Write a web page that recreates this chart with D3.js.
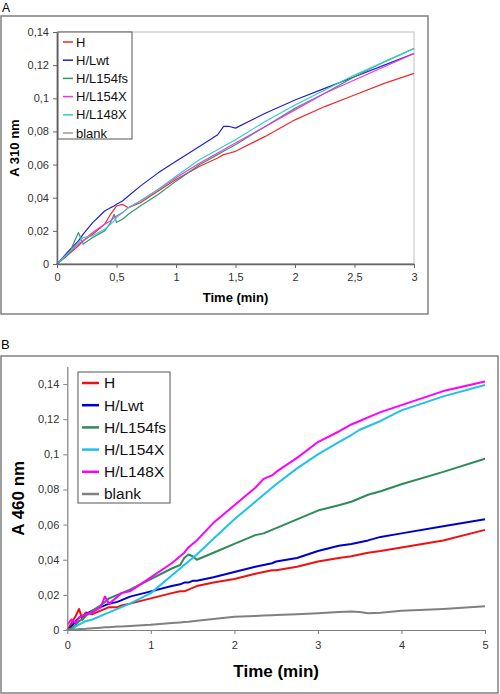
<!DOCTYPE html>
<html><head><meta charset="utf-8">
<script src="https://cdn.jsdelivr.net/npm/d3@7"></script>
<style>
html,body{margin:0;padding:0;background:#fff;}
svg{display:block;font-family:"Liberation Sans",Arial,sans-serif;}
</style></head>
<body>
<svg id="c" width="500" height="694"></svg>
<script>
// ---------- DATA ----------
const seriesNames = ["H","H/Lwt","H/L154fs","H/L154X","H/L148X","blank"];

// Panel A (A 310 nm)
const timeA = [0,0.1,0.18,0.22,0.3,0.4,0.45,0.48,0.5,0.55,0.6,0.7,0.85,1,1.2,1.35,1.4,1.45,1.5,1.75,2,2.25,2.5,2.75,3];
const aH      = [0,0.006,0.011,0.014,0.018,0.024,0.030,0.033,0.035,0.036,0.034,0.037,0.044,0.051,0.059,0.064,0.066,0.067,0.068,0.077,0.087,0.095,0.102,0.109,0.115];
const aLwt    = [0,0.008,0.014,0.018,0.025,0.032,0.034,0.035,0.036,0.038,0.041,0.047,0.055,0.062,0.071,0.078,0.083,0.083,0.082,0.091,0.099,0.106,0.113,0.120,0.127];
const aL154fs = [0,0.006,0.019,0.012,0.016,0.020,0.025,0.030,0.025,0.027,0.030,0.035,0.042,0.050,0.060,0.066,0.068,0.070,0.072,0.083,0.094,0.103,0.113,0.122,0.130];
const aL154X  = [0,0.007,0.012,0.014,0.019,0.024,0.026,0.028,0.029,0.031,0.034,0.038,0.045,0.052,0.061,0.067,0.069,0.071,0.073,0.083,0.093,0.103,0.111,0.119,0.127];
const aL148X  = [0,0.007,0.013,0.016,0.017,0.021,0.024,0.026,0.028,0.031,0.034,0.038,0.045,0.053,0.063,0.069,0.071,0.073,0.075,0.086,0.096,0.105,0.114,0.122,0.130];
const aBlank  = [0,0,0,0,0,0,0,0,0,0,0,0,0,0,0,0,0,0,0,0,0,0,0,0,0];
const ticksAx = [0,0.5,1,1.5,2,2.5,3];
const ticksAy = [0,0.02,0.04,0.06,0.08,0.1,0.12,0.14];

// Panel B (A 460 nm)
const timeB = [0,0.05,0.1,0.14,0.18,0.22,0.3,0.4,0.45,0.5,0.6,0.65,0.75,1,1.25,1.35,1.4,1.45,1.5,1.55,1.75,2,2.25,2.35,2.45,2.5,2.75,3,3.25,3.4,3.5,3.6,3.75,4,4.5,5];
const bH      = [0,0.004,0.008,0.012,0.006,0.010,0.009,0.011,0.012,0.013,0.013,0.014,0.015,0.018,0.021,0.022,0.022,0.023,0.024,0.025,0.027,0.029,0.032,0.033,0.034,0.034,0.036,0.039,0.041,0.042,0.043,0.044,0.045,0.047,0.051,0.057];
const bLwt    = [0,0.002,0.005,0.007,0.008,0.009,0.011,0.013,0.014,0.015,0.016,0.017,0.019,0.022,0.025,0.026,0.027,0.027,0.028,0.028,0.030,0.033,0.036,0.037,0.038,0.039,0.041,0.045,0.048,0.049,0.050,0.051,0.053,0.055,0.059,0.063];
const bL154fs = [0,0.001,0.003,0.005,0.006,0.008,0.011,0.014,0.016,0.018,0.020,0.021,0.023,0.029,0.035,0.037,0.041,0.043,0.042,0.040,0.044,0.049,0.054,0.055,0.057,0.058,0.063,0.068,0.071,0.073,0.075,0.077,0.079,0.083,0.090,0.0975];
const bL154X  = [0,0,0.002,0.003,0.004,0.005,0.006,0.008,0.009,0.010,0.012,0.013,0.015,0.021,0.031,0.035,0.037,0.039,0.041,0.043,0.052,0.063,0.073,0.077,0.081,0.083,0.092,0.100,0.107,0.111,0.114,0.116,0.119,0.125,0.133,0.1395];
const bL148X  = [0.003,0.006,0.004,0.007,0.008,0.009,0.010,0.013,0.019,0.015,0.019,0.021,0.022,0.030,0.038,0.042,0.044,0.047,0.049,0.051,0.061,0.071,0.081,0.086,0.088,0.090,0.098,0.107,0.113,0.117,0.119,0.121,0.124,0.128,0.136,0.1415];
const bBlank  = [0,0,0.0003,0.0005,0.0006,0.0007,0.001,0.0013,0.0015,0.0016,0.002,0.002,0.0023,0.003,0.004,0.0043,0.0045,0.0047,0.005,0.0052,0.0062,0.0075,0.008,0.0082,0.0084,0.0085,0.009,0.0095,0.0102,0.0105,0.0103,0.0095,0.0098,0.011,0.012,0.0135];
const ticksBx = [0,1,2,3,4,5];
const ticksBy = [0,0.02,0.04,0.06,0.08,0.1,0.12,0.14];

const colorsA = ["#ee2a2a","#2020cc","#339966","#ee33ee","#33cccc","#999999"];
const colorsB = ["#ee1111","#0000cc","#2e8b57","#1ec0ec","#ff00ff","#808080"];

const fmt = v => String(+v.toFixed(3)).replace(".", ",");

const svg = d3.select("#c");
const FONT = "'Liberation Sans',Arial,sans-serif";

function panel(cfg){
  const g = svg.append("g");
  g.append("rect").attr("x",cfg.frame[0]).attr("y",cfg.frame[1])
    .attr("width",cfg.frame[2]-cfg.frame[0]).attr("height",cfg.frame[3]-cfg.frame[1])
    .attr("fill","#fff").attr("stroke","#808080").attr("stroke-width",1.5);
  g.append("text").attr("x",cfg.letterPos[0]).attr("y",cfg.letterPos[1])
    .attr("font-size",cfg.letterSize).attr("fill","#000").text(cfg.letter);

  const x = d3.scaleLinear().domain(cfg.xDomain).range([cfg.plot[0],cfg.plot[2]]);
  const y = d3.scaleLinear().domain(cfg.yDomain).range([cfg.plot[3],cfg.plot[1]]);

  if(cfg.plotBorder){
    g.append("rect").attr("x",cfg.plot[0]).attr("y",cfg.plot[1])
      .attr("width",cfg.plot[2]-cfg.plot[0]).attr("height",cfg.plot[3]-cfg.plot[1])
      .attr("fill","none").attr("stroke","#c0c0c0").attr("stroke-width",1);
  }

  const line = d3.line().x(d=>x(d[0])).y(d=>y(d[1]));
  cfg.series.forEach((vals,i)=>{
    g.append("path").datum(cfg.time.map((t,j)=>[t,vals[j]]))
      .attr("d",line).attr("fill","none").attr("stroke",cfg.colors[i])
      .attr("stroke-width",cfg.lw).attr("stroke-linejoin","round");
  });

  const xa = g.append("g").attr("transform",`translate(0,${cfg.plot[3]})`)
    .call(d3.axisBottom(x).tickValues(cfg.xTicks).tickFormat(fmt).tickSize(4).tickSizeOuter(0).tickPadding(cfg.xPad));
  const ya = g.append("g").attr("transform",`translate(${cfg.plot[0]},0)`)
    .call(d3.axisLeft(y).tickValues(cfg.yTicks).tickFormat(fmt).tickSize(4).tickSizeOuter(0).tickPadding(4));
  [xa,ya].forEach(a=>{
    a.select(".domain").attr("stroke",cfg.axisColor).attr("stroke-width",cfg.axisW);
    a.selectAll(".tick line").attr("stroke",cfg.axisColor);
    a.selectAll(".tick text").attr("font-size",cfg.tickSize).attr("font-family",FONT).attr("fill","#333");
  });

  g.append("text").attr("x",(cfg.plot[0]+cfg.plot[2])/2).attr("y",cfg.xTitleY)
    .attr("text-anchor","middle").attr("font-weight","bold").attr("font-size",cfg.titleSize)
    .text("Time (min)");
  g.append("text").attr("transform",`translate(${cfg.yTitleX},${(cfg.plot[1]+cfg.plot[3])/2}) rotate(-90)`)
    .attr("text-anchor","middle").attr("font-weight","bold").attr("font-size",cfg.titleSize)
    .text(cfg.yTitle);

  const L = cfg.legend;
  g.append("rect").attr("x",L.box[0]).attr("y",L.box[1]).attr("width",L.box[2]-L.box[0])
    .attr("height",L.box[3]-L.box[1]).attr("fill","#fff").attr("stroke","#555").attr("stroke-width",1);
  seriesNames.forEach((n,i)=>{
    const yy = L.y0 + i*L.dy;
    g.append("line").attr("x1",L.lx0).attr("x2",L.lx1).attr("y1",yy).attr("y2",yy)
      .attr("stroke",cfg.colors[i]).attr("stroke-width",cfg.legendLw);
    g.append("text").attr("x",L.tx).attr("y",yy).attr("dy","0.35em")
      .attr("font-size",L.size).attr("fill","#111").text(n);
  });
}

panel({
  frame:[1,16,428,314], letter:"A", letterPos:[2,12], letterSize:12,
  plot:[57,32,414,264], xDomain:[0,3], yDomain:[0,0.14],
  time:timeA, series:[aH,aLwt,aL154fs,aL154X,aL148X,aBlank], colors:colorsA, lw:1.2, legendLw:1.5,
  xTicks:ticksAx, yTicks:ticksAy, plotBorder:true, axisColor:"#666", axisW:1.5, tickSize:11, xPad:5,
  xTitleY:302, yTitleX:19, yTitle:"A 310 nm", titleSize:13,
  legend:{box:[58,32,132,139], y0:42, dy:18.2, lx0:63, lx1:73, tx:76, size:13}
});

panel({
  frame:[1,356,498,693], letter:"B", letterPos:[1,349], letterSize:13,
  plot:[67.3,366.5,485,630], xDomain:[0,5], yDomain:[0,0.15],
  time:timeB, series:[bH,bLwt,bL154fs,bL154X,bL148X,bBlank], colors:colorsB, lw:2, legendLw:2.5,
  xTicks:ticksBx, yTicks:ticksBy, plotBorder:false, axisColor:"#808080", axisW:1.2, tickSize:11, xPad:7,
  xTitleY:677, yTitleX:24, yTitle:"A 460 nm", titleSize:17,
  legend:{box:[78,372,170,503], y0:383, dy:22.2, lx0:82, lx1:99, tx:104, size:15.5}
});
</script>
</body></html>
